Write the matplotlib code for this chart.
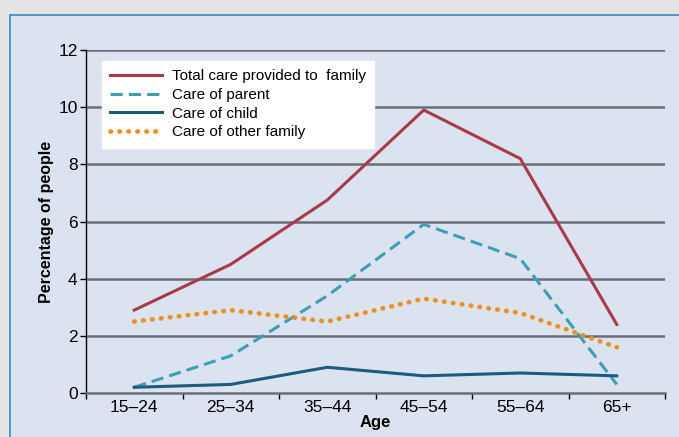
import matplotlib
matplotlib.use("Agg")
import matplotlib.pyplot as plt
from matplotlib.patches import Rectangle

plt.rcParams['font.family'] = ['Liberation Sans', 'DejaVu Sans']

ages = ["15–24", "25–34", "35–44", "45–54", "55–64", "65+"]
total = [2.9, 4.5, 6.75, 9.9, 8.2, 2.4]
parent = [0.2, 1.3, 3.4, 5.9, 4.7, 0.3]
child = [0.2, 0.3, 0.9, 0.6, 0.7, 0.6]
other = [2.5, 2.9, 2.5, 3.3, 2.8, 1.6]
yticks = [0, 2, 4, 6, 8, 10, 12]

fig = plt.figure(figsize=(6.79, 4.37), dpi=100)
fig.patch.set_facecolor('#e4e4e4')
panel = Rectangle((10/679, -0.1), 1.0, 1 - 15/437 + 0.1, transform=fig.transFigure,
                  facecolor='#dce3f0', edgecolor='#3d87c0', linewidth=1.2, zorder=-5)
fig.patches.append(panel)

ax = fig.add_axes([86/679, 1 - 393/437, (665 - 86)/679, (393 - 50)/437])
ax.set_zorder(2)
ax.set_facecolor('none')
x = list(range(len(ages)))

ax.plot(x, total, color='#a83a4b', lw=2.2, label='Total care provided to  family', zorder=3)
ax.plot(x, parent, color='#3d9fb2', lw=2.2, ls=(0, (4, 2)), label='Care of parent', zorder=3)
ax.plot(x, child, color='#1c5a7e', lw=2.2, label='Care of child', zorder=3)
ax.plot(x, other, color='#f0901c', lw=3.4, ls=(0, (0.1, 1.8)), dash_capstyle='round',
        label='Care of other family', zorder=3)

ax.set_ylim(0, 12)
ax.set_xlim(-0.5, 5.5)
ax.set_yticks(yticks)
ax.set_yticklabels([str(v) for v in yticks], fontsize=12.5)
for v in yticks[1:]:
    ax.axhline(v, color='#6b6e78', lw=1.8, zorder=1)

ax.set_xticks([i - 0.5 for i in range(len(ages) + 1)], minor=False)
ax.set_xticklabels([])
ax.set_xticks(x, minor=True)
ax.set_xticklabels(ages, minor=True, fontsize=12.5)
ax.tick_params(axis='x', which='minor', length=0, pad=5)
ax.tick_params(axis='x', which='major', length=4, width=1, color='black', direction='out')
ax.tick_params(axis='y', length=4, width=1, direction='out', pad=2)

for s in ['top', 'right']:
    ax.spines[s].set_visible(False)
ax.spines['bottom'].set_color('#6b6e78')
ax.spines['bottom'].set_linewidth(1.8)
ax.spines['left'].set_color('black')
ax.spines['left'].set_linewidth(1)

ax.set_xlabel('Age', fontsize=12, fontweight='bold', labelpad=0)
ax.set_ylabel('Percentage of people', fontsize=11.5, fontweight='bold', labelpad=3)

leg = ax.legend(loc='upper left', bbox_to_anchor=(16/579, 1 - 11/343), fontsize=11,
                frameon=True, fancybox=False, framealpha=1, edgecolor='white',
                borderpad=0.55, labelspacing=0.3, handlelength=3.4, handletextpad=0.6,
                borderaxespad=0)

fig.savefig('out.png', dpi=100, facecolor=fig.get_facecolor())
